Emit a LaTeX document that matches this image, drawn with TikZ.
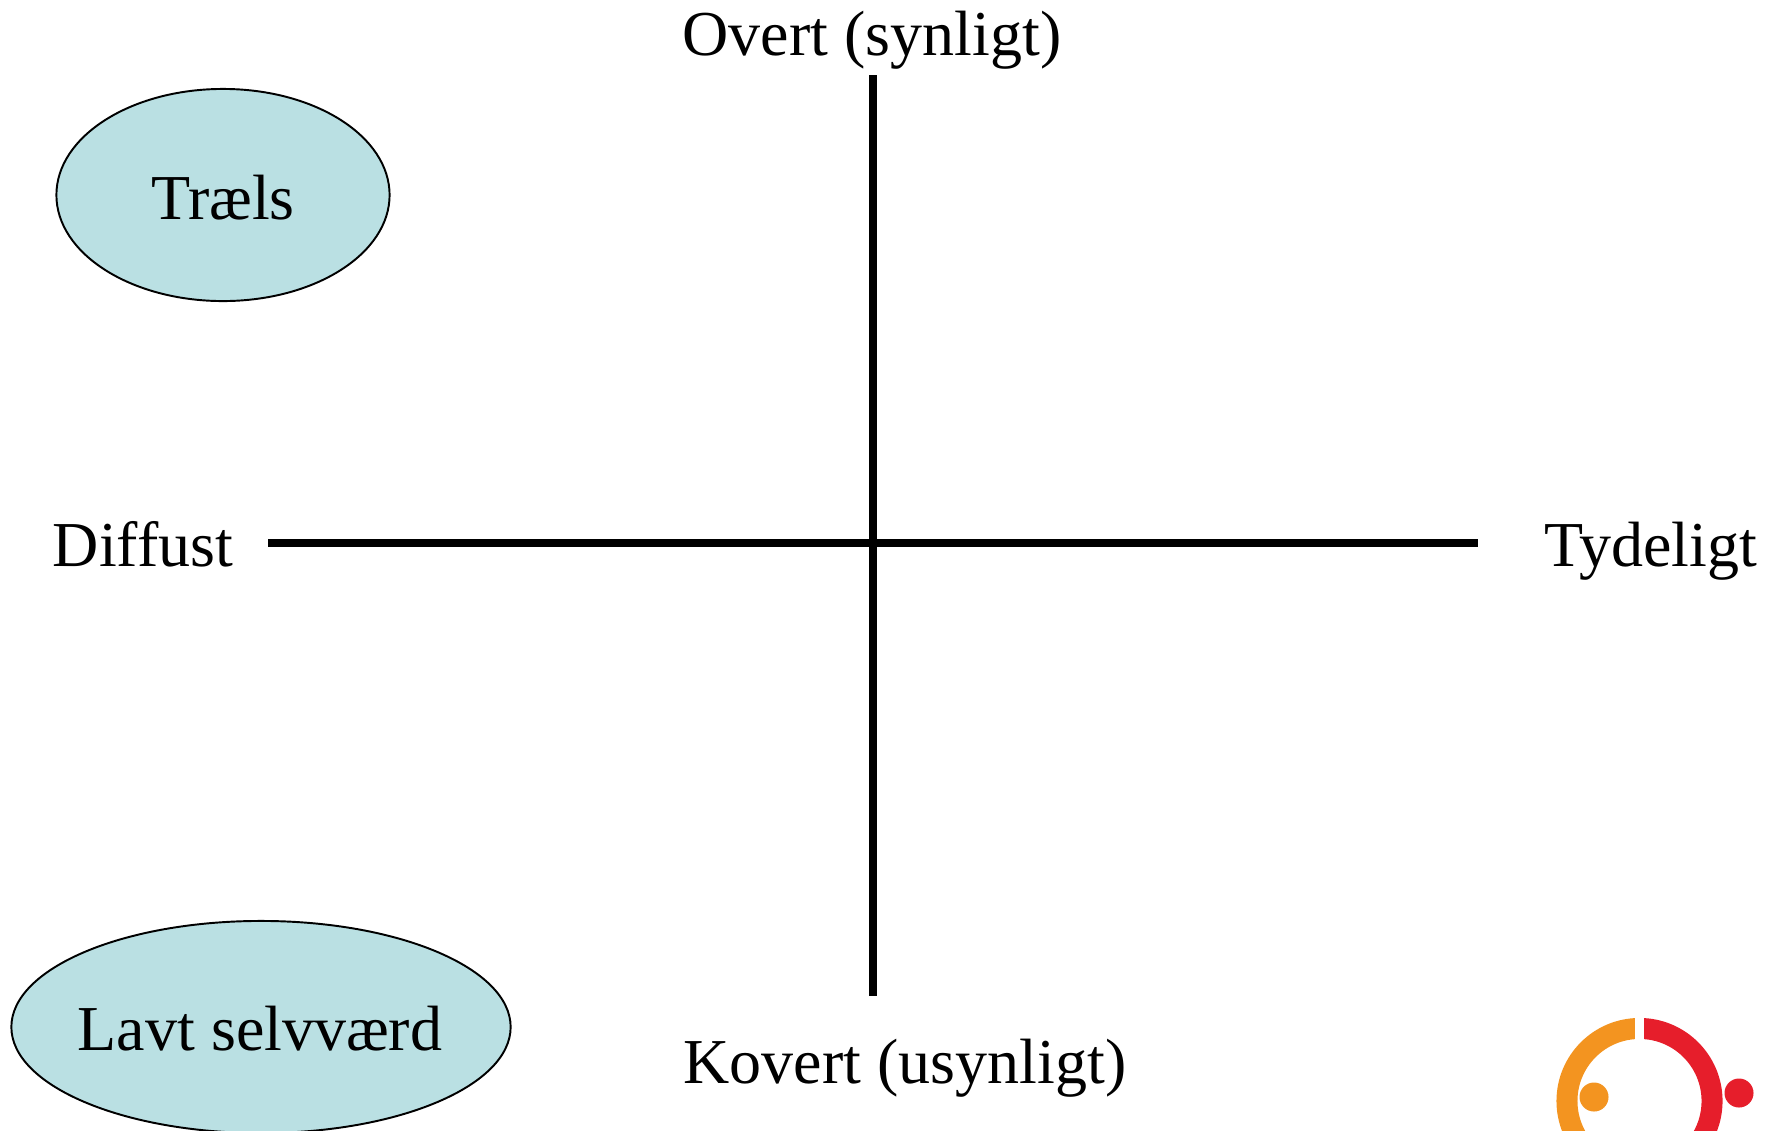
\documentclass[tikz,border=0pt]{standalone}
\usepackage{fontspec}
\setmainfont{Liberation Serif}
\usepackage{xcolor}
\usepackage{tikz}
\usetikzlibrary{shapes.geometric}

\definecolor{feltblaa}{HTML}{BAE0E3}
\definecolor{logoorange}{HTML}{F39420}
\definecolor{logorod}{HTML}{E61E2B}

\begin{document}
\begin{tikzpicture}[x=0.01cm, y=-0.01cm, font=\fontsize{18.2}{22}\selectfont,
    felt/.style={ellipse, draw=black, line width=0.55pt, fill=feltblaa, inner sep=0pt},
    tekst/.style={anchor=base, inner sep=0pt},
    akse/.style={line width=2.25pt}]
  \clip (0,0) rectangle (1782,1130);

  \node[felt, minimum width=3.33cm, minimum height=2.12cm] (traelsfelt) at (223,195) {};
  \node[felt, minimum width=4.99cm, minimum height=2.12cm] (selvfelt) at (261,1027) {};
  \node[tekst] (traels) at (223,219) {Træls};
  \node[tekst] (selv) at (260,1050) {Lavt selvværd};

  \coordinate (top) at (873,75);
  \coordinate (bund) at (873,996);
  \coordinate (venstre) at (268,543);
  \coordinate (hoejre) at (1478,543);
  \draw[akse] (top) -- (bund);
  \draw[akse] (venstre) -- (hoejre);

  \node[tekst] (overt) at (872,55) {Overt (synligt)};
  \node[tekst] (kovert) at (905,1083) {Kovert (usynligt)};
  \node[tekst] (diffust) at (143,566) {Diffust};
  \node[tekst] (tydeligt) at (1651,566) {Tydeligt};

  % logo
  \coordinate (logo) at (1639.5,1101);
  \draw[logoorange, line width=0.21cm] ([shift={(90:0.725cm)}]logo) arc[start angle=90, end angle=270, radius=0.725cm];
  \draw[logorod, line width=0.21cm] ([shift={(90:0.725cm)}]logo) arc[start angle=90, end angle=-90, radius=0.725cm];
  \fill[white] (1635,1010) rectangle (1644,1046);
  \fill[logoorange] (1594,1097) circle[radius=0.145cm];
  \fill[logorod] (1739,1093) circle[radius=0.145cm];
\end{tikzpicture}
\end{document}
